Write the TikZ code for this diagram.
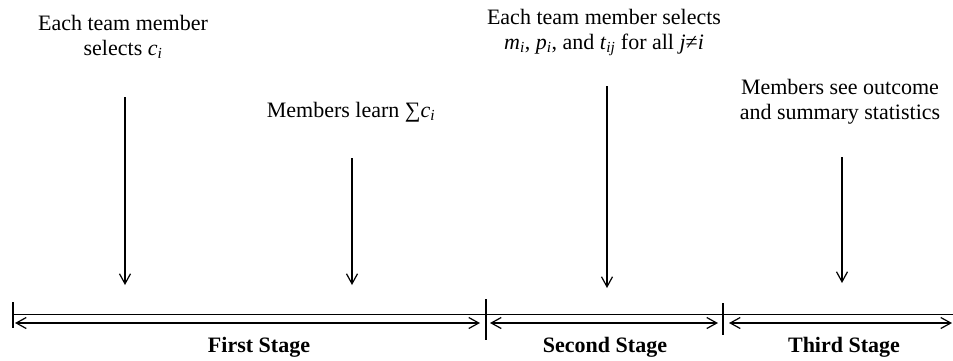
\documentclass[tikz,border=0pt]{standalone}
\usepackage{fontspec}
\setmainfont{Liberation Serif}
\usetikzlibrary{arrows.meta}
\begin{document}
\begin{tikzpicture}[x=1pt,y=-1pt,
  txt/.style={font=\fontsize{22}{25}\selectfont, inner sep=0pt, align=center, anchor=base},
  stagelbl/.style={font=\fontsize{22}{25}\selectfont\bfseries, inner sep=0pt, anchor=base},
  ln/.style={line width=1.2pt},
  varrow/.style={line width=1.2pt, -{Straight Barb[length=10pt,width=11pt,line width=1.2pt]}},
  harrow/.style={line width=1.2pt, {Straight Barb[length=10pt,width=11pt,line width=1.2pt]}-{Straight Barb[length=10pt,width=11pt,line width=1.2pt]}}]
\useasboundingbox (0,0) rectangle (953,360);
% texts (anchor=base = baseline of the last line)
\node[txt] (t1) at (123,55) {Each team member\\selects \textit{c}\textsubscript{\textit{i}}};
\node[txt] (t2) at (351,117) {Members learn ∑\textit{c}\textsubscript{\textit{i}}};
\node[txt] (t3) at (604,49) {Each team member selects\\\textit{m}\textsubscript{\textit{i}}, \textit{p}\textsubscript{\textit{i}}, and \textit{t}\textsubscript{\textit{ij}} for all \textit{j}≠\textit{i}};
\node[txt] (t4) at (840,119) {Members see outcome\\and summary statistics};
% vertical arrows
\coordinate (a1s) at (125,97);  \coordinate (a1e) at (125,285);
\coordinate (a2s) at (352,158); \coordinate (a2e) at (352,285);
\coordinate (a3s) at (607,86);  \coordinate (a3e) at (607,288);
\coordinate (a4s) at (842,157); \coordinate (a4e) at (842,283);
\draw[varrow] (a1s) -- (a1e);
\draw[varrow] (a2s) -- (a2e);
\draw[varrow] (a3s) -- (a3e);
\draw[varrow] (a4s) -- (a4e);
% timeline
\coordinate (l0) at (13,314.5); \coordinate (l1) at (953,314.5);
\draw[ln] (l0) -- (l1);
\coordinate (k1a) at (13,302);  \coordinate (k1b) at (13,328);
\coordinate (k2a) at (486,299); \coordinate (k2b) at (486,340);
\coordinate (k3a) at (723,303); \coordinate (k3b) at (723,335);
\draw[ln] (k1a) -- (k1b);
\draw[ln] (k2a) -- (k2b);
\draw[ln] (k3a) -- (k3b);
\coordinate (h1a) at (15,323);  \coordinate (h1b) at (480,323);
\coordinate (h2a) at (490,323); \coordinate (h2b) at (718,323);
\coordinate (h3a) at (729,323); \coordinate (h3b) at (952,323);
\draw[harrow] (h1a) -- (h1b);
\draw[harrow] (h2a) -- (h2b);
\draw[harrow] (h3a) -- (h3b);
% stage labels
\node[stagelbl] (s1) at (259,352) {First Stage};
\node[stagelbl] (s2) at (605,352) {Second Stage};
\node[stagelbl] (s3) at (844,352) {Third Stage};
\end{tikzpicture}
\end{document}
